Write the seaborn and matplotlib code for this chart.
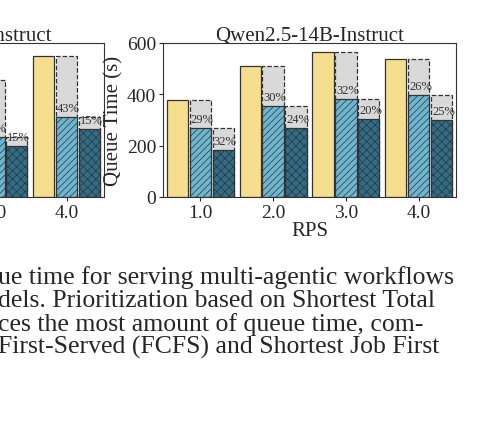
import matplotlib
matplotlib.use("Agg")
import matplotlib.pyplot as plt
import seaborn as sns
import numpy as np

sns.set_style("white")
plt.rcParams['font.family'] = ['Liberation Serif', 'DejaVu Serif']
plt.rcParams['hatch.linewidth'] = 0.5
plt.rcParams['hatch.color'] = '#1f4a5c'

rps = [1.0, 2.0, 3.0, 4.0]
tick_labels = ["1.0", "2.0", "3.0", "4.0"]

# right panel (Qwen2.5-14B-Instruct)
r_fcfs = [378, 509, 565, 537]
r_sjf = [268, 354, 383, 396]
r_stf = [183, 269, 305, 300]
r_pct_sjf = ["29%", "30%", "32%", "26%"]
r_pct_stf = ["32%", "24%", "20%", "25%"]

# left panel (partially visible)
l_fcfs = [300, 390, 454, 550]
l_sjf = [220, 260, 233, 313]
l_stf = [180, 210, 200, 265]
l_pct_sjf = ["27%", "33%", "49%", "43%"]
l_pct_stf = ["18%", "19%", "15%", "15%"]

title_r = "Qwen2.5-14B-Instruct"
title_l = "Llama-3.1-8B-Instruct"
caption = ["ue time for serving multi-agentic workflows",
           "dels. Prioritization based on Shortest Total",
           "ces the most amount of queue time, com-",
           "First-Served (FCFS) and Shortest Job First"]

c_y, c_b, c_d, c_g = "#F5DF8F", "#6DB6D0", "#2F6E88", "#D9D9D9"
W = 0.29
OFF = 0.315

def panel(ax, fcfs, sjf, stf, psjf, pstf, title, ylabel):
    x = np.array(rps)
    ax.bar(x - OFF, fcfs, W, color=c_y, edgecolor="#333333", lw=0.9)
    ax.bar(x, fcfs, W, color=c_g, edgecolor="#333333", lw=0.9, ls="--")
    ax.bar(x, sjf, W, color=c_b, edgecolor="#333333", lw=0.9, hatch="/////")
    ax.bar(x + OFF, sjf, W, color=c_g, edgecolor="#333333", lw=0.9, ls="--")
    ax.bar(x + OFF, stf, W, color=c_d, edgecolor="#333333", lw=0.9, hatch="xxxx")
    for xi, s, p in zip(x, sjf, psjf):
        ax.text(xi - W/2 + 0.01, s + 12, p, fontsize=9, color="#333333", ha="left",
                va="bottom", clip_on=True)
    for xi, s, p in zip(x, stf, pstf):
        ax.text(xi + OFF - W/2 + 0.01, s + 12, p, fontsize=9, color="#333333", ha="left",
                va="bottom", clip_on=True)
    ax.set_xlim(0.49, 4.51)
    ax.set_ylim(0, 600)
    ax.set_xticks(rps)
    ax.set_xticklabels(tick_labels, fontsize=14)
    ax.set_yticks([0, 200, 400, 600])
    ax.tick_params(axis='y', labelsize=14, length=3, left=True, pad=2)
    ax.tick_params(axis='x', length=3, bottom=True, pad=2)
    ax.set_title(title, fontsize=15, pad=2)
    if ylabel:
        ax.set_ylabel("Queue Time (s)", fontsize=15, labelpad=2)
    for s in ax.spines.values():
        s.set_color("#333333")

fig = plt.figure(figsize=(4.88, 4.35), dpi=100)
axl = fig.add_axes([-189/488, 1-198/435, 293/488, 154/435])
axr = fig.add_axes([163/488, 1-198/435, 293/488, 154/435])
panel(axl, l_fcfs, l_sjf, l_stf, l_pct_sjf, l_pct_stf, title_l, False)
axl.set_yticklabels([])
panel(axr, r_fcfs, r_sjf, r_stf, r_pct_sjf, r_pct_stf, title_r, True)
axr.set_xlabel("RPS", fontsize=15, labelpad=0)

for i, line in enumerate(caption):
    fig.text(-0.005, 1 - (278 + 23.3*i)/435, line, fontsize=18.5, ha="left", va="center")

fig.savefig("out.png", dpi=100)
